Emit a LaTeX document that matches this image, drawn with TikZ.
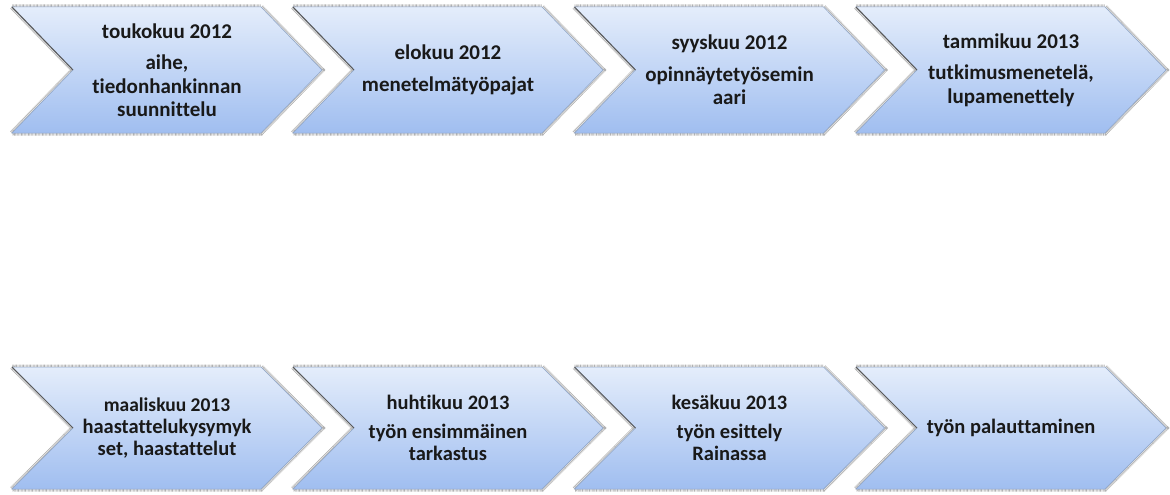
\documentclass[tikz,border=0pt]{standalone}
\usepackage{fontspec}
\setmainfont[Ligatures=NoCommon]{Carlito}
\definecolor{chevtop}{HTML}{E4EDFB}
\definecolor{chevbot}{HTML}{A0BEF0}
\definecolor{chevline}{HTML}{8EA5C8}
\newcommand{\mychevron}[5]{% x, y, h, name, text
  \begin{scope}[shift={(#1,#2)}]
    \path[chevshadow] (0,0) -- (249,0) -- (310,#3/2) -- (249,#3) -- (0,#3) -- (61,#3/2) -- cycle;
    \shade[chevfill] (0,0) -- (249,0) -- (310,#3/2) -- (249,#3) -- (0,#3) -- (61,#3/2) -- cycle;
    \draw[chevedge] (0,0) -- (61,#3/2);
    \node[chevtext] (#4) at (155,#3/2) {#5};
  \end{scope}}
\begin{document}
\begin{tikzpicture}[x=1pt,y=-1pt,
  chevshadow/.style={draw=gray!60, line width=5pt, line join=miter, dash pattern=on 0.7pt off 0.7pt},
  chevfill/.style={top color=chevtop, bottom color=chevbot, draw=chevline, line width=0.5pt, line join=miter},
  chevedge/.style={draw=black!65, line width=1pt},
  chevtext/.style={text=black!90, align=center, inner sep=0pt},
  toprow/.style={font=\fontsize{21}{23.5}\selectfont\bfseries},
  botrow/.style={font=\fontsize{20.5}{22}\selectfont\bfseries}
]
\path[use as bounding box, fill=white] (0,0) rectangle (1170,495);

\tikzset{chevtext/.append style={toprow}}
\mychevron{12}{7}{126}{c1}{toukokuu 2012\\[8pt]aihe,\\tiedonhankinnan\\suunnittelu}
\mychevron{293}{7}{126}{c2}{elokuu 2012\\[8pt]menetelmätyöpajat}
\mychevron{574.5}{7}{126}{c3}{syyskuu 2012\\[8pt]opinnäytetyösemin\\aari}
\mychevron{856}{7}{126}{c4}{tammikuu 2013\\[8pt]tutkimusmenetelä,\\lupamenettely}

\tikzset{chevtext/.append style={botrow}}
\mychevron{12}{367}{122}{c5}{\fontsize{19.5}{21.5}\selectfont maaliskuu 2013\\haastattelukysymyk\\set, haastattelut}
\mychevron{293}{367}{122}{c6}{huhtikuu 2013\\[7.5pt]työn ensimmäinen\\tarkastus}
\mychevron{574.5}{367}{122}{c7}{kesäkuu 2013\\[7.5pt]työn esittely\\Rainassa}
\mychevron{856}{367}{122}{c8}{työn palauttaminen}
\end{tikzpicture}
\end{document}
